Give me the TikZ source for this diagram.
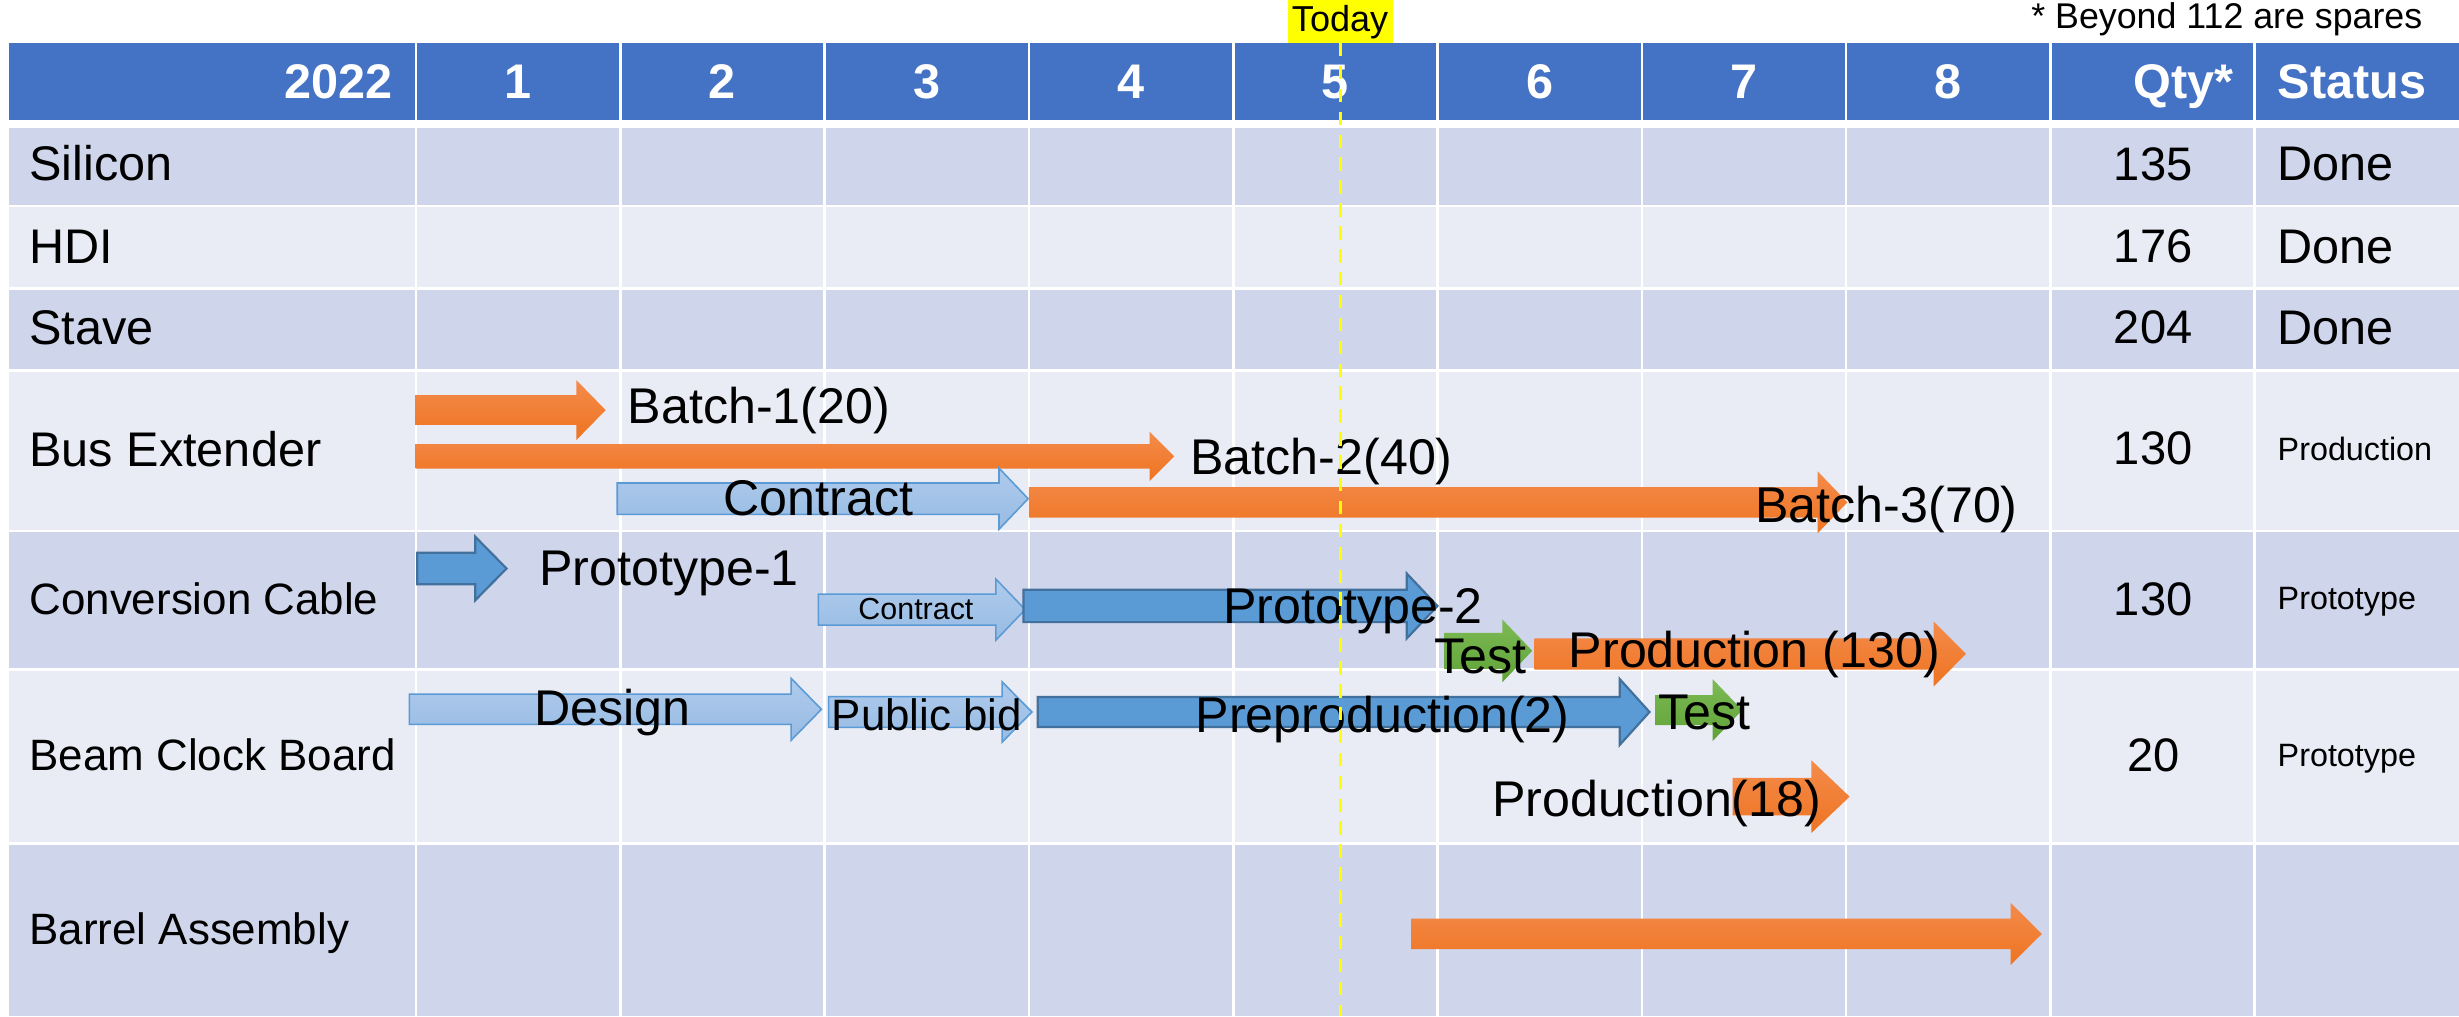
\documentclass[tikz,border=0pt]{standalone}
\usepackage{fontspec}
\setmainfont{Liberation Sans}
\definecolor{hdr}{HTML}{4472C4}
\definecolor{bandD}{HTML}{CFD5EA}
\definecolor{bandL}{HTML}{E9EBF5}
\definecolor{orT}{HTML}{F48B4B}
\definecolor{orB}{HTML}{EE7421}
\definecolor{lbT}{HTML}{AECBEC}
\definecolor{lbB}{HTML}{98BBE3}
\definecolor{lbD}{HTML}{5B9BD5}
\definecolor{mbF}{HTML}{5B9BD5}
\definecolor{mbD}{HTML}{41719C}
\definecolor{grT}{HTML}{7DBA55}
\definecolor{grB}{HTML}{5FA237}
\definecolor{todayY}{HTML}{FFFF00}
\newcommand\gfs[1]{\fontsize{#1}{#1}\selectfont}
\newcommand\ganttbar[7]{\path[#1] (#2,{#5-#6}) -- (#3,{#5-#6}) -- (#3,{#5-#7}) -- (#4,#5) -- (#3,{#5+#7}) -- (#3,{#5+#6}) -- (#2,{#5+#6}) -- cycle;}
\begin{document}
\begin{tikzpicture}[x=0.5pt,y=-0.5pt,
  t16/.style={font=\gfs{16}, text height=11.46pt, text depth=0pt, inner sep=0pt, anchor=west},
  t155/.style={font=\gfs{15.5}, text height=11.1pt, text depth=0pt, inner sep=0pt, anchor=west},
  t15/.style={font=\gfs{15}, text height=10.74pt, text depth=0pt, inner sep=0pt},
  t14/.style={font=\gfs{14}, text height=10.02pt, text depth=0pt, inner sep=0pt, anchor=west},
  t103/.style={font=\gfs{10.3}, text height=7.37pt, text depth=0pt, inner sep=0pt, anchor=west},
  t97/.style={font=\gfs{9.7}, text height=6.95pt, text depth=0pt, inner sep=0pt, anchor=west},
  t11/.style={font=\gfs{11.4}, text height=8.16pt, text depth=0pt, inner sep=0pt},
  t115/.style={font=\gfs{11.5}, text height=8.23pt, text depth=0pt, inner sep=0pt},
  hb/.style={font=\gfs{15.5}\bfseries, text=white, text height=11.1pt, text depth=0pt, inner sep=0pt},
  orangebar/.style={top color=orT, bottom color=orB},
  ltbluebar/.style={top color=lbT, bottom color=lbB, draw=lbD, line width=0.5pt},
  medbluebar/.style={fill=mbF, draw=mbD, line width=0.7pt},
  greenbar/.style={top color=grT, bottom color=grB},
  gridline/.style={white, line width=0.85pt},
  todayline/.style={todayY, line width=1.1pt, dash pattern=on 4.3pt off 3pt}
]
\useasboundingbox (0,0) rectangle (1568,648);
% bands
\fill[hdr]   (5.7,27.4) rectangle (1568,76.5);
\fill[bandD] (5.7,81.6) rectangle (1568,130.5);
\fill[bandL] (5.7,132.2) rectangle (1568,183.2);
\fill[bandD] (5.7,185) rectangle (1568,235.5);
\fill[bandL] (5.7,237) rectangle (1568,338);
\fill[bandD] (5.7,339.3) rectangle (1568,426.2);
\fill[bandL] (5.7,427.7) rectangle (1568,537.2);
\fill[bandD] (5.7,539) rectangle (1568,648);
\foreach \k in {0,...,9}
  \draw[gridline] ({265.3+130.27*\k},27.4) -- ({265.3+130.27*\k},648);
% header
\node[hb, anchor=east] (h2022) at (251,51.5) {2022};
\foreach \m in {1,...,8}
  \node[hb] (hm\m) at ({265.3+130.27*(\m-0.5)},51.5) {\m};
\node[hb, anchor=east] (hqty) at (1424.7,51.5) {Qty*};
\node[hb, anchor=west] (hstat) at (1452,51.5) {Status};
% row labels
\node[t155] (rSi) at (18.4,104.2) {Silicon};
\node[t155] (rHDI) at (18.4,156.7) {HDI};
\node[t155] (rSt) at (18.4,208.6) {Stave};
\node[t155] (rBus) at (18.4,286.4) {Bus Extender};
\node[t14] (rConv) at (18.4,382) {Conversion Cable};
\node[t14] (rBeam) at (18.4,481) {Beam Clock Board};
\node[t14] (rBar) at (18.4,592.5) {Barrel Assembly};
% qty
\node[t15] (q1) at (1373,104.2) {135};
\node[t15] (q2) at (1373,156.7) {176};
\node[t15] (q3) at (1373,208.6) {204};
\node[t15] (q4) at (1373,285.7) {130};
\node[t15] (q5) at (1373,381.5) {130};
\node[t15] (q6) at (1373,481) {20};
% status
\node[t155] (s1) at (1452,104.2) {Done};
\node[t155] (s2) at (1452,156.7) {Done};
\node[t155] (s3) at (1452,208.6) {Done};
\node[t103] (s4) at (1452,286) {Production};
\node[t103] (s5) at (1452,381.5) {Prototype};
\node[t103] (s6) at (1452,481.5) {Prototype};
% bars
\ganttbar{orangebar}{265}{367.6}{386.2}{261.5}{9.5}{19}
\ganttbar{orangebar}{265}{733}{748.7}{291}{7.75}{15.75}
\ganttbar{ltbluebar}{393.6}{637}{655.6}{318}{10}{19.5}
\ganttbar{orangebar}{656}{1159}{1178}{320.3}{9.75}{19.75}
\ganttbar{medbluebar}{266}{303}{323}{362.5}{10}{20.3}
\ganttbar{ltbluebar}{521.8}{635}{653.7}{388.7}{9.9}{19.5}
\ganttbar{medbluebar}{652.6}{897}{916.6}{386.4}{10.3}{20.7}
\ganttbar{greenbar}{921}{958}{977}{415}{11.5}{20}
\ganttbar{orangebar}{978.6}{1233}{1253.6}{417}{10}{20.7}
\ganttbar{ltbluebar}{261}{504.5}{523.8}{452.3}{9.65}{19.7}
\ganttbar{ltbluebar}{528.4}{639}{658}{454}{9.8}{19.2}
\ganttbar{medbluebar}{661.7}{1032.8}{1051.8}{454}{9.55}{21}
\ganttbar{greenbar}{1055.4}{1092}{1111}{452.8}{9.5}{19.8}
\ganttbar{orangebar}{1104.8}{1155}{1179.4}{508}{12}{23.2}
\ganttbar{orangebar}{900}{1282}{1302}{595.5}{9.7}{19.85}
% bar labels
\node[t16] (lb1) at (400,258.8) {Batch-1(20)};
\node[t16] (lb2) at (758.7,291) {Batch-2(40)};
\node[t16] (lc1) at (461,317) {Contract};
\node[t16] (lb3) at (1119,322) {Batch-3(70)};
\node[t16] (lp1) at (343.6,362) {Prototype-1};
\node[t97] (lc2) at (547,388) {Contract};
\node[t16] (lp2) at (779.7,386) {Prototype-2};
\node[t16] (lt1) at (914,418.2) {Test};
\node[t16] (lpr130) at (1000,414) {Production (130)};
\node[t16] (ld) at (340.5,451) {Design};
\node[t14] (lpb) at (530,456) {Public bid};
\node[t16] (lpre) at (762,455.6) {Preproduction(2)};
\node[t16] (lt2) at (1057,454) {Test};
\node[t16] (lpr18) at (951,509) {Production(18)};
% footnote
\node[t11, anchor=east] (foot) at (1545,10.3) {* Beyond 112 are spares};
% today
\coordinate (tdtop) at (854.7,27.4);
\coordinate (tdbot) at (854.7,648);
\draw[todayline] (tdtop) -- (tdbot);
\fill[todayY] (821,0) rectangle (888,27.6);
\node[t115] (today) at (854.5,11.9) {Today};
\end{tikzpicture}
\end{document}
